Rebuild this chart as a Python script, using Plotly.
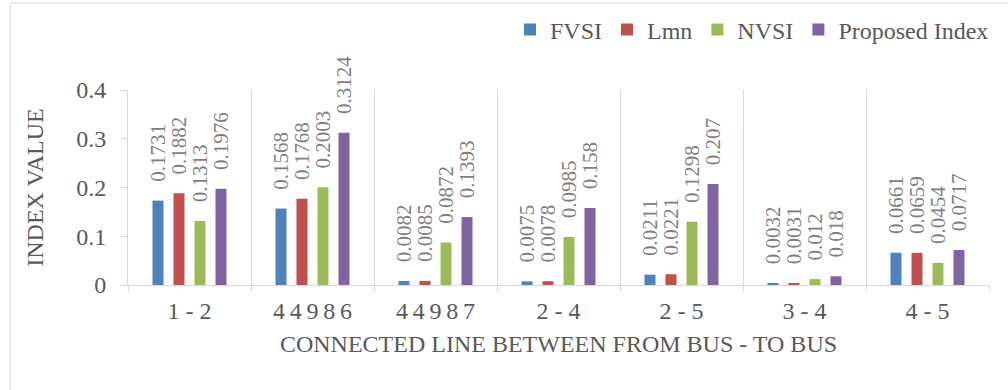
import plotly.graph_objects as go

# Branch labels (from bus - to bus), as shown on the category axis
lines = ["1 - 2", "4\u20094\u20099\u20098\u20096", "4\u20094\u20099\u20098\u20097",
         "2 - 4", "2 - 5", "3 - 4", "4 - 5"]

fvsi = [0.1731, 0.1568, 0.0082, 0.0075, 0.0211, 0.0032, 0.0661]
lmn = [0.1882, 0.1768, 0.0085, 0.0078, 0.0221, 0.0031, 0.0659]
nvsi = [0.1313, 0.2003, 0.0872, 0.0985, 0.1298, 0.012, 0.0454]
proposed = [0.1976, 0.3124, 0.1393, 0.158, 0.207, 0.018, 0.0717]

y_ticks = [0, 0.1, 0.2, 0.3, 0.4]
y_ticktext = ["0", "0.1", "0.2", "0.3", "0.4"]

series = [
    ("FVSI", fvsi, "#4F81BD"),
    ("Lmn", lmn, "#C0504D"),
    ("NVSI", nvsi, "#9BBB59"),
    ("Proposed Index", proposed, "#8064A2"),
]

FONT = "Liberation Serif"
TXT = "#595959"
GRID = "#D9D9D9"
FS = 24

fig = go.Figure()
for name, vals, color in series:
    fig.add_trace(go.Bar(
        name=name, x=lines, y=vals,
        marker=dict(color=color, line=dict(width=0)),
        text=[f"\u00a0\u00a0\u00a0{v:g}" for v in vals],
        texttemplate="%{text}",
        textposition="outside",
        textangle=-90,
        constraintext="none",
        cliponaxis=False,
        textfont=dict(family=FONT, size=21, color="#7F7F7F"),
    ))

W, H = 1008, 390
L, R, T, B = 128, 19, 90, 105
pw, ph = W - L - R, H - T - B

fig.update_layout(
    width=W, height=H,
    margin=dict(l=L, r=R, t=T, b=B, autoexpand=False),
    paper_bgcolor="white", plot_bgcolor="white",
    barmode="group", bargap=0.317, bargroupgap=0.476,
    font=dict(family=FONT, color=TXT),
    showlegend=True,
    legend=dict(
        orientation="h", x=1.0 + 5 / pw, xanchor="right",
        y=1 + (T - 30) / ph, yanchor="middle",
        font=dict(family=FONT, size=FS, color=TXT),
        itemwidth=30, bgcolor="rgba(0,0,0,0)",
    ),
    xaxis=dict(
        type="category", tickson="boundaries",
        showgrid=True, gridcolor=GRID, gridwidth=1,
        showline=True, linecolor=GRID, linewidth=1,
        ticks="outside", ticklen=6, tickcolor=GRID,
        ticklabelstandoff=4,
        tickfont=dict(family=FONT, size=FS, color=TXT),
        title=dict(text="CONNECTED LINE BETWEEN FROM BUS - TO BUS",
                   font=dict(family=FONT, size=FS, color=TXT), standoff=12),
    ),
    yaxis=dict(
        range=[0, 0.4], tickvals=y_ticks, ticktext=y_ticktext,
        showgrid=False, zeroline=False,
        showline=True, linecolor=GRID, linewidth=1,
        ticks="outside", ticklen=6, tickcolor=GRID,
        ticklabelstandoff=10,
        tickfont=dict(family=FONT, size=FS, color=TXT),
        title=dict(text="INDEX VALUE",
                   font=dict(family=FONT, size=FS, color=TXT), standoff=25),
    ),
    shapes=[dict(
        type="rect", xref="paper", yref="paper",
        x0=(10 - L) / pw, x1=(W + 20 - L) / pw,
        y0=-(B + 20) / ph, y1=1 + (T - 3) / ph,
        line=dict(color=GRID, width=1), layer="below",
    )],
)

fig.write_html("out.html")
